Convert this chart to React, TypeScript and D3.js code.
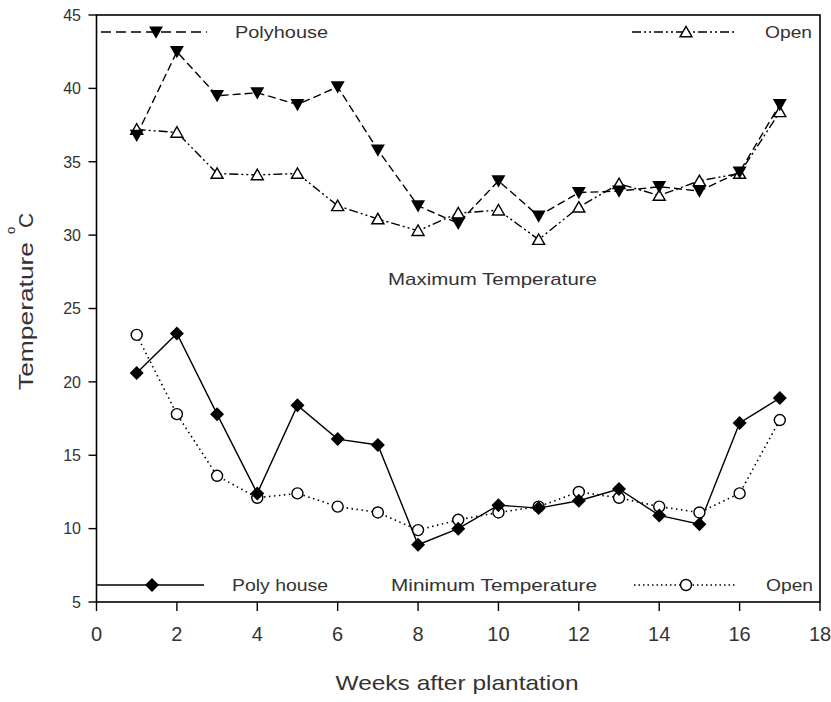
import React from "react";
import * as d3 from "d3";

const weeks = [1, 2, 3, 4, 5, 6, 7, 8, 9, 10, 11, 12, 13, 14, 15, 16, 17];
const polyMax = [36.8, 42.5, 39.5, 39.7, 38.9, 40.1, 35.8, 32.0, 30.8, 33.7, 31.3, 32.9, 33.0, 33.3, 33.0, 34.3, 38.9];
const openMax = [37.2, 37.0, 34.2, 34.1, 34.2, 32.0, 31.1, 30.3, 31.5, 31.7, 29.7, 31.9, 33.5, 32.7, 33.7, 34.2, 38.4];
const polyMin = [20.6, 23.3, 17.8, 12.4, 18.4, 16.1, 15.7, 8.9, 10.0, 11.6, 11.4, 11.9, 12.7, 10.9, 10.3, 17.2, 18.9];
const openMin = [23.2, 17.8, 13.6, 12.1, 12.4, 11.5, 11.1, 9.9, 10.6, 11.1, 11.5, 12.5, 12.1, 11.5, 11.1, 12.4, 17.4];
const xTicks = [0, 2, 4, 6, 8, 10, 12, 14, 16, 18];
const yTicks = [5, 10, 15, 20, 25, 30, 35, 40, 45];

const W = 831, H = 702;
const L = 96.5, R = 820, T = 15, B = 602;
const FONT = "'Liberation Sans', Arial, sans-serif";
const TXT = "#333";

const x = d3.scaleLinear().domain([0, 18]).range([L, R]);
const y = d3.scaleLinear().domain([5, 45]).range([B, T]);

const line = d3.line<[number, number]>().x(d => x(d[0])).y(d => y(d[1]));
const pts = (vals: number[]) => weeks.map((w, i) => [w, vals[i]] as [number, number]);

const downTri = (cx: number, cy: number, s = 7) => `M${cx - s},${cy - s * 0.8}L${cx + s},${cy - s * 0.8}L${cx},${cy + s * 0.95}Z`;
const upTri = (cx: number, cy: number, s = 6) => `M${cx - s},${cy + s * 0.8}L${cx + s},${cy + s * 0.8}L${cx},${cy - s * 0.95}Z`;
const diamond = (cx: number, cy: number, s = 7) => `M${cx},${cy - s}L${cx + s},${cy}L${cx},${cy + s}L${cx - s},${cy}Z`;

function Label({ x: tx, y: ty, w, children }: { x: number; y: number; w: number; children: string }) {
  return (
    <text x={tx} y={ty} dy="0.35em" fontFamily={FONT} fontSize={17} fill={TXT} textLength={w} lengthAdjust="spacingAndGlyphs">
      {children}
    </text>
  );
}

export default function App() {
  const dashDotDot = "9,3,2,3,2,3";
  return (
    <svg width={W} height={H} style={{ display: "block", position: "absolute", left: 0, top: 0, background: "#fff" }}>
      <rect x={0} y={0} width={W} height={H} fill="#fff" />
      {/* frame */}
      <rect x={L} y={T} width={R - L} height={B - T} fill="none" stroke="#000" strokeWidth={1.6} />
      {/* y ticks */}
      {yTicks.map(t => (
        <g key={"y" + t}>
          <line x1={L - 8} x2={L} y1={y(t)} y2={y(t)} stroke="#000" strokeWidth={1.4} />
          <text x={81} y={y(t)} dy="0.36em" textAnchor="end" fontFamily={FONT} fontSize={16} fill={TXT}>{t}</text>
        </g>
      ))}
      {/* x ticks */}
      {xTicks.map(t => (
        <g key={"x" + t}>
          <line x1={x(t)} x2={x(t)} y1={B} y2={B + 9} stroke="#000" strokeWidth={1.4} />
          <text x={x(t)} y={641} textAnchor="middle" fontFamily={FONT} fontSize={20} fill={TXT}>{t}</text>
        </g>
      ))}
      <text x={457} y={690} textAnchor="middle" fontFamily={FONT} fontSize={21} fill={TXT} textLength={243} lengthAdjust="spacingAndGlyphs">Weeks after plantation</text>
      <g transform="translate(33,0) rotate(-90)">
        <text x={-390} y={0} fontFamily={FONT} fontSize={21} fill={TXT} textLength={148} lengthAdjust="spacingAndGlyphs">Temperature</text>
        <text x={-234} y={-18} fontFamily={FONT} fontSize={13} fill={TXT}>o</text>
        <text x={-228} y={0} fontFamily={FONT} fontSize={21} fill={TXT}>C</text>
      </g>

      {/* lines */}
      <path d={line(pts(polyMax)) || ""} fill="none" stroke="#000" strokeWidth={1.4} strokeDasharray="8,4" />
      <path d={line(pts(openMax)) || ""} fill="none" stroke="#000" strokeWidth={1.4} strokeDasharray={dashDotDot} />
      <path d={line(pts(polyMin)) || ""} fill="none" stroke="#000" strokeWidth={1.4} />
      <path d={line(pts(openMin)) || ""} fill="none" stroke="#000" strokeWidth={1.6} strokeDasharray="1.5,3.5" />

      {/* markers */}
      {pts(openMax).map((p, i) => <path key={"om" + i} d={upTri(x(p[0]), y(p[1]))} fill="#fff" stroke="#000" strokeWidth={1.4} />)}
      {pts(polyMax).map((p, i) => <path key={"pm" + i} d={downTri(x(p[0]), y(p[1]))} fill="#000" />)}
      {pts(openMin).map((p, i) => <circle key={"on" + i} cx={x(p[0])} cy={y(p[1])} r={5.5} fill="#fff" stroke="#000" strokeWidth={1.4} />)}
      {pts(polyMin).map((p, i) => <path key={"pn" + i} d={diamond(x(p[0]), y(p[1]))} fill="#000" />)}

      {/* legends */}
      <line x1={101} x2={207} y1={32} y2={32} stroke="#000" strokeWidth={1.4} strokeDasharray="10,5" />
      <path d={downTri(156, 32)} fill="#000" />
      <Label x={235} y={32} w={93}>Polyhouse</Label>

      <line x1={632} x2={736} y1={32} y2={32} stroke="#000" strokeWidth={1.4} strokeDasharray={dashDotDot} />
      <path d={upTri(686, 32)} fill="#fff" stroke="#000" strokeWidth={1.4} />
      <Label x={765} y={32} w={47}>Open</Label>

      <Label x={388} y={279} w={209}>Maximum Temperature</Label>

      <line x1={97} x2={204} y1={585} y2={585} stroke="#000" strokeWidth={1.4} />
      <path d={diamond(152, 585)} fill="#000" />
      <Label x={232} y={585} w={96}>Poly house</Label>

      <Label x={391} y={585} w={206}>Minimum Temperature</Label>

      <line x1={634} x2={737} y1={585} y2={585} stroke="#000" strokeWidth={1.6} strokeDasharray="1.5,3" />
      <circle cx={686} cy={585} r={5.5} fill="#fff" stroke="#000" strokeWidth={1.4} />
      <Label x={766} y={585} w={47}>Open</Label>
    </svg>
  );
}
